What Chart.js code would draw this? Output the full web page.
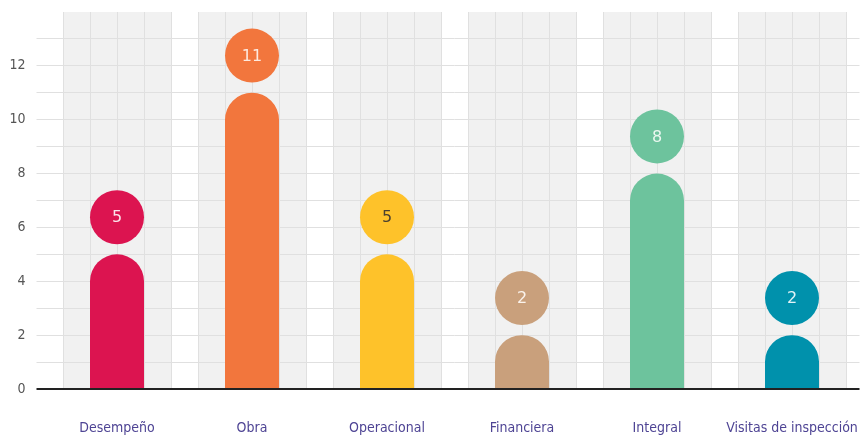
<!DOCTYPE html>
<html>
<head>
<meta charset="utf-8">
<script src="https://cdn.jsdelivr.net/npm/chart.js@4.4.1/dist/chart.umd.min.js"></script>
<style>
html,body{margin:0;padding:0;background:#fff;}
#wrap{width:861px;height:436px;position:relative;}
</style>
</head>
<body>
<div id="wrap"><canvas id="c" width="861" height="436"></canvas></div>
<script>
const categories = ['Desempeño','Obra','Operacional','Financiera','Integral','Visitas de inspección'];
const values = [5, 11, 5, 2, 8, 2];
const barColors = ['#dc1450','#f2763d','#fec22a','#c9a07c','#6dc39d','#0091ac'];
const labelColors = ['#fbe3ea','#fde9df','#4a4030','#fbf3ec','#eaf7f0','#e2f3f7'];
const yTicks = [0, 2, 4, 6, 8, 10, 12];

const FONT = '"DejaVu Sans", sans-serif';
const circleOffset = 1.38;

const stretchPlugin = {
  id: 'stretch',
  beforeInit(chart) { chart.ctx.fontStretch = 'condensed'; },
  beforeLayout(chart) { chart.ctx.fontStretch = 'condensed'; },
  beforeDraw(chart) { chart.ctx.fontStretch = 'condensed'; }
};

const bandPlugin = {
  id: 'bands',
  beforeDraw(chart) {
    const {ctx, chartArea, scales} = chart;
    const x = scales.x;
    const w = (chartArea.right - chartArea.left) / categories.length;
    const cell = w / 5;
    ctx.save();
    categories.forEach((c, i) => {
      const cx = x.getPixelForValue(i);
      ctx.fillStyle = '#f1f1f1';
      ctx.fillRect(cx - 2 * cell, chartArea.top, 4 * cell, chartArea.bottom - chartArea.top);
      ctx.strokeStyle = '#e0e0e0';
      ctx.lineWidth = 1;
      for (let k = -2; k <= 2; k++) {
        const px = Math.round(cx + k * cell) + 0.5;
        ctx.beginPath();
        ctx.moveTo(px, chartArea.top);
        ctx.lineTo(px, chartArea.bottom);
        ctx.stroke();
      }
    });
    ctx.restore();
  }
};

const labelPlugin = {
  id: 'circleLabels',
  afterDatasetsDraw(chart) {
    const {ctx} = chart;
    const meta = chart.getDatasetMeta(1);
    ctx.save();
    ctx.fontStretch = 'condensed';
    ctx.font = '16px ' + FONT;
    ctx.textAlign = 'center';
    ctx.textBaseline = 'middle';
    meta.data.forEach((pt, i) => {
      ctx.fillStyle = labelColors[i];
      ctx.fillText(String(values[i]), pt.x, pt.y + 1);
    });
    ctx.restore();
  }
};

new Chart(document.getElementById('c'), {
  data: {
    labels: categories,
    datasets: [
      {
        type: 'bar',
        data: values,
        backgroundColor: barColors,
        borderWidth: 0,
        borderSkipped: 'bottom',
        borderRadius: {topLeft: 27, topRight: 27, bottomLeft: 0, bottomRight: 0},
        barPercentage: 0.4,
        categoryPercentage: 1.0,
        order: 2
      },
      {
        type: 'line',
        data: values.map(v => v + circleOffset),
        showLine: false,
        pointRadius: 27,
        pointHoverRadius: 27,
        pointBorderWidth: 0,
        pointBackgroundColor: barColors,
        pointBorderColor: barColors,
        clip: false,
        order: 1
      }
    ]
  },
  options: {
    responsive: false,
    animation: false,
    events: [],
    layout: {autoPadding: false, padding: {top: 12, right: 1.5, left: 0, bottom: 0}},
    plugins: {legend: {display: false}, tooltip: {enabled: false}},
    scales: {
      x: {
        offset: true,
        grid: {display: false, drawTicks: false},
        border: {display: false},
        ticks: {
          color: '#4e4494',
          font: {family: FONT, size: 14},
          padding: 31,
          maxRotation: 0,
          autoSkip: false
        },
        afterFit(s) { s.height = 47; s.paddingLeft = 0; s.paddingRight = 0; }
      },
      y: {
        min: 0,
        max: 14,
        border: {display: false},
        grid: {
          tickLength: 13,
          color(ctx) {
            const v = ctx.tick ? ctx.tick.value : null;
            if (v === 0) return '#222222';
            if (v === 14) return 'rgba(0,0,0,0)';
            return '#e0e0e0';
          },
          lineWidth(ctx) {
            return ctx.tick && ctx.tick.value === 0 ? 2 : 1;
          }
        },
        ticks: {
          stepSize: 1,
          padding: 11,
          color: '#555555',
          font: {family: FONT, size: 14},
          callback(v) { return yTicks.includes(v) ? String(v) : ''; }
        },
        afterFit(s) { s.width = 49.5; s.paddingTop = 0; s.paddingBottom = 0; }
      }
    }
  },
  plugins: [stretchPlugin, bandPlugin, labelPlugin]
});
</script>
</body>
</html>
